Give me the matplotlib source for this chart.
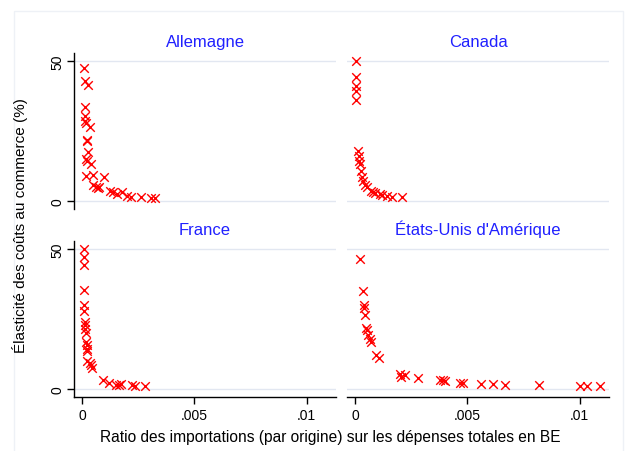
import matplotlib
matplotlib.use("Agg")
import matplotlib.pyplot as plt
from matplotlib.patches import Rectangle

plt.rcParams['font.family'] = ['Liberation Sans', 'DejaVu Sans']

# ratio des importations (x) et élasticité (y), par pays
de_x = [0.0001, 0.00013, 0.00025, 0.00013, 0.00013, 0.00013, 0.00018, 0.00033,
        0.00021, 0.00024, 0.00027, 0.00016, 0.00024, 0.00039, 0.00016, 0.00047,
        0.00098, 0.00047, 0.00062, 0.00073, 0.00077, 0.00124, 0.00139, 0.00157,
        0.00176, 0.00199, 0.00216, 0.00262, 0.00305, 0.00324]
de_y = [47.5, 42.8, 41.5, 33.7, 30.5, 28.7, 27.7, 26.5,
        21.8, 21.3, 17.4, 15.0, 14.4, 13.2, 8.8, 9.4,
        8.5, 5.8, 5.1, 4.6, 5.1, 3.5, 3.1, 2.5,
        3.1, 2.0, 1.3, 1.3, 1.1, 1.1]

ca_x = [0.00006, 0.00006, 0.00006, 0.00006, 0.00006, 0.00013, 0.00018, 0.00018,
        0.00021, 0.00025, 0.00031, 0.00036, 0.00046, 0.00055, 0.0007, 0.0008,
        0.0009, 0.0011, 0.0012, 0.00144, 0.00165, 0.00209]
ca_y = [50.1, 44.4, 41.0, 39.2, 36.1, 17.8, 16.2, 14.4,
        13.2, 10.6, 8.5, 7.3, 5.8, 4.9, 3.7, 3.1,
        2.75, 2.5, 2.25, 1.9, 1.5, 1.3]

fr_x = [0.00009, 0.00009, 0.00009, 0.00009, 0.00009, 0.00009, 0.00013, 0.00015,
        0.00015, 0.00016, 0.00018, 0.0002, 0.0002, 0.0002, 0.00024, 0.00033,
        0.00039, 0.00044, 0.00095, 0.00121, 0.00151, 0.00166, 0.00172, 0.00221,
        0.00236, 0.0028]
fr_y = [50.1, 47.1, 44.2, 35.5, 29.9, 27.7, 23.9, 22.7,
        21.3, 20.1, 16.8, 15.6, 14.4, 13.5, 10.2, 9.4,
        8.5, 7.5, 3.1, 2.25, 1.5, 1.5, 1.8, 1.3,
        1.1, 1.0]

us_x = [0.00021, 0.00033, 0.00039, 0.0004, 0.00043, 0.0005, 0.00055, 0.00058,
        0.00065, 0.0007, 0.00095, 0.00106, 0.00202, 0.00206, 0.00224, 0.00278,
        0.00377, 0.00392, 0.00402, 0.00466, 0.00481, 0.0056, 0.00612, 0.00665,
        0.00817, 0.01002, 0.01032, 0.01091]
us_y = [46.3, 34.9, 29.9, 28.9, 26.5, 21.8, 21.0, 19.2,
        17.7, 16.8, 12.3, 11.1, 5.5, 4.3, 5.1, 4.0,
        3.1, 3.1, 2.75, 2.25, 2.25, 1.9, 1.7, 1.5,
        1.3, 1.1, 1.1, 0.96]

panels = [
    ("Allemagne", de_x, de_y),
    ("Canada", ca_x, ca_y),
    ("France", fr_x, fr_y),
    ("États-Unis d'Amérique", us_x, us_y),
]

x_ticks = [0, 0.005, 0.01]
x_tick_labels = ["0", ".005", ".01"]
y_ticks = [0, 50]
y_tick_labels = ["0", "50"]

W, H = 629, 452
fig = plt.figure(figsize=(W / 100, H / 100), dpi=100)
fig.patch.set_facecolor("white")

# cadre clair autour du graphique
fig.patches.append(Rectangle((14 / W, -0.05), (623 - 14) / W, 1.05 - 12 / H,
                             transform=fig.transFigure, fill=False,
                             edgecolor="#eef1f6", linewidth=1.0))

lefts = [74, 347]
tops = [54, 242]
pw, ph = 262, 156

grid_col = "#e2e7f1"
for i, (name, xs, ys) in enumerate(panels):
    row, col = divmod(i, 2)
    l = lefts[col]
    t = tops[row]
    ax = fig.add_axes([l / W, 1 - (t + ph) / H, pw / W, ph / H])
    ax.set_xlim(-0.00036, 0.0113)
    ax.set_ylim(-2.8, 52.8)
    for yv in y_ticks:
        ax.axhline(yv, color=grid_col, linewidth=1.0, zorder=0)
    ax.scatter(xs, ys, marker="x", color="red", s=38, linewidths=1.0, zorder=3)
    ax.set_title(name, color="#2020ff", fontsize=12, pad=5)

    for s in ["top", "right"]:
        ax.spines[s].set_visible(False)
    ax.spines["left"].set_visible(col == 0)
    ax.spines["bottom"].set_visible(row == 1)
    ax.spines["left"].set_linewidth(1.0)
    ax.spines["bottom"].set_linewidth(1.0)

    ax.set_yticks(y_ticks)
    if col == 0:
        ax.set_yticklabels(y_tick_labels, rotation=90, va="center", fontsize=10)
        ax.tick_params(axis="y", length=5, width=1.0, pad=2)
    else:
        ax.tick_params(axis="y", left=False, labelleft=False)

    ax.set_xticks(x_ticks)
    if row == 1:
        ax.set_xticklabels(x_tick_labels, fontsize=10)
        ax.tick_params(axis="x", length=5, width=1.0, pad=3)
    else:
        ax.tick_params(axis="x", bottom=False, labelbottom=False)
    ax.set_facecolor("none")

fig.text(330 / W, 1 - 438 / H, "Ratio des importations (par origine) sur les dépenses totales en BE",
         ha="center", va="center", fontsize=11.2)
fig.text(20 / W, 1 - 226 / H, "Élasticité des coûts au commerce (%)",
         ha="center", va="center", rotation=90, fontsize=11)

fig.savefig("out.png", dpi=100)
